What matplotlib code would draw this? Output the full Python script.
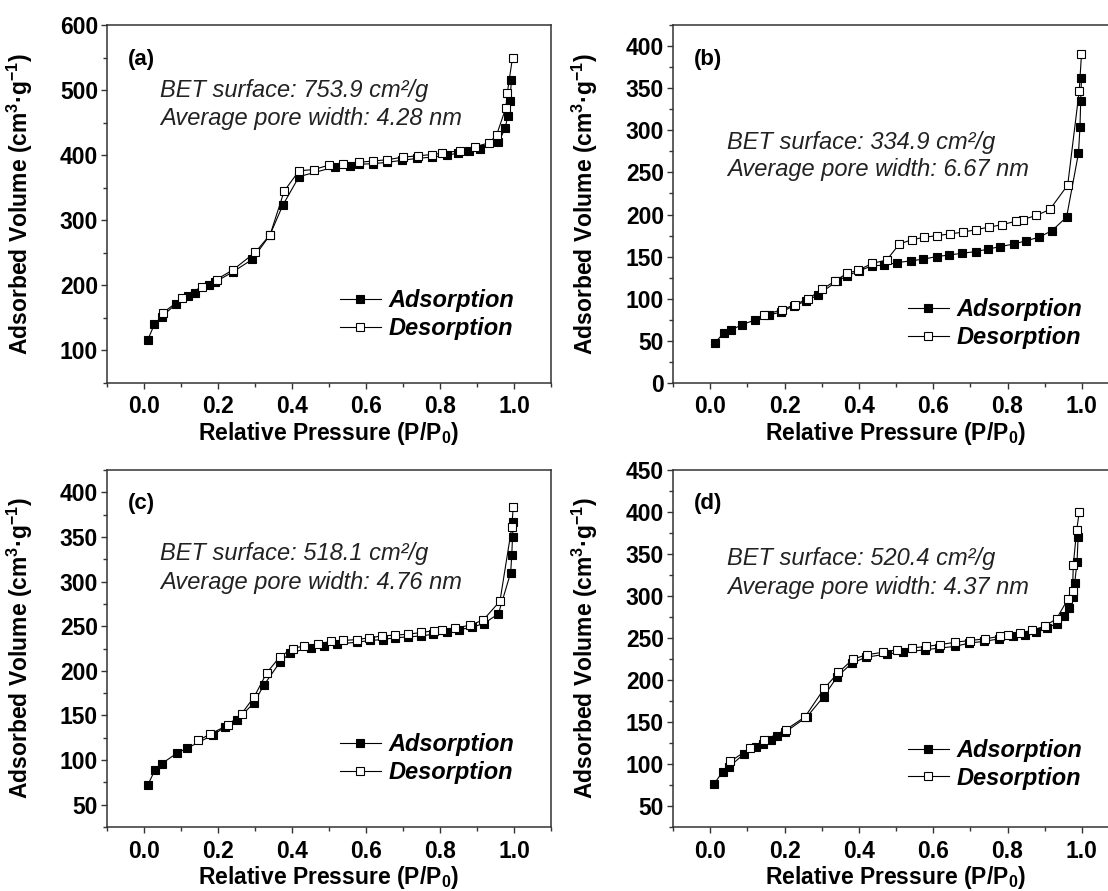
import matplotlib
matplotlib.use("Agg")
import matplotlib.pyplot as plt
from matplotlib.ticker import MultipleLocator

plt.rcParams["font.family"] = ["Liberation Sans", "DejaVu Sans"]
plt.rcParams["mathtext.fontset"] = "custom"
plt.rcParams["mathtext.rm"] = "Liberation Sans:bold"
plt.rcParams["mathtext.it"] = "Liberation Sans:bold"
plt.rcParams["mathtext.bf"] = "Liberation Sans:bold"

# ---- (a) ----
ads_a_p = [0.010, 0.028, 0.048, 0.086, 0.120, 0.138, 0.177, 0.192, 0.241, 0.293,
           0.340, 0.375, 0.419, 0.516, 0.557, 0.580, 0.620, 0.656, 0.696, 0.737,
           0.778, 0.818, 0.848, 0.878, 0.908, 0.958, 0.976, 0.983, 0.989, 0.993]
ads_a_v = [116, 140, 152, 171, 183, 188, 200, 205, 221, 240,
           277, 323, 367, 382, 384, 386, 387, 389, 392, 395,
           397, 400, 403, 406, 410, 420, 441, 460, 483, 515]
des_a_p = [0.996, 0.982, 0.978, 0.953, 0.933, 0.895, 0.854, 0.805, 0.778, 0.740,
           0.699, 0.658, 0.618, 0.580, 0.539, 0.501, 0.460, 0.419, 0.379, 0.341,
           0.301, 0.241, 0.196, 0.156, 0.102, 0.052]
des_a_v = [550, 496, 473, 431, 419, 413, 407, 403, 401, 399,
           397, 393, 391, 389, 387, 385, 378, 376, 345, 278,
           251, 224, 209, 198, 180, 158]

# ---- (b) ----
ads_b_p = [0.013, 0.036, 0.056, 0.085, 0.121, 0.157, 0.191, 0.226, 0.258, 0.291,
           0.342, 0.367, 0.400, 0.435, 0.469, 0.504, 0.540, 0.573, 0.609, 0.643,
           0.678, 0.714, 0.748, 0.781, 0.817, 0.851, 0.885, 0.920, 0.959, 0.991,
           0.995, 0.997, 0.999]
ads_b_v = [48, 59, 63, 69, 75, 81, 84, 92, 97, 105,
           121, 127, 133, 139, 140, 143, 145, 147, 150, 152,
           154, 156, 159, 162, 165, 169, 173, 181, 197, 273,
           304, 335, 362]
des_b_p = [0.999, 0.993, 0.962, 0.914, 0.878, 0.841, 0.822, 0.786, 0.750, 0.715,
           0.679, 0.645, 0.611, 0.576, 0.542, 0.509, 0.475, 0.436, 0.399, 0.367,
           0.336, 0.300, 0.264, 0.227, 0.194, 0.146]
des_b_v = [390, 347, 235, 206, 199, 194, 192, 188, 185, 182,
           179, 177, 175, 173, 170, 165, 146, 142, 134, 130,
           121, 111, 100, 93, 87, 81]

# ---- (c) ----
ads_c_p = [0.010, 0.030, 0.048, 0.090, 0.115, 0.186, 0.219, 0.252, 0.297, 0.324,
           0.368, 0.395, 0.450, 0.486, 0.522, 0.575, 0.611, 0.645, 0.678, 0.714,
           0.748, 0.782, 0.818, 0.852, 0.887, 0.919, 0.958, 0.991, 0.994, 0.996,
           0.998]
ads_c_v = [72, 89, 96, 108, 113, 128, 137, 145, 164, 184,
           210, 220, 226, 228, 230, 232, 234, 235, 237, 238,
           239, 241, 243, 246, 249, 253, 264, 310, 330, 350,
           367]
des_c_p = [0.998, 0.994, 0.962, 0.917, 0.881, 0.841, 0.805, 0.784, 0.750, 0.714,
           0.678, 0.642, 0.609, 0.575, 0.539, 0.505, 0.471, 0.433, 0.402, 0.368,
           0.332, 0.298, 0.264, 0.226, 0.178, 0.147]
des_c_v = [384, 361, 278, 257, 251, 248, 246, 245, 243, 241,
           240, 239, 237, 235, 234, 233, 230, 228, 225, 216,
           198, 171, 152, 139, 129, 122]

# ---- (d) ----
ads_d_p = [0.010, 0.034, 0.052, 0.091, 0.124, 0.142, 0.163, 0.179, 0.202, 0.260,
           0.305, 0.342, 0.381, 0.419, 0.475, 0.518, 0.578, 0.617, 0.659, 0.697,
           0.737, 0.778, 0.815, 0.847, 0.876, 0.905, 0.932, 0.952, 0.966, 0.977,
           0.981, 0.987, 0.990]
ads_d_v = [76, 91, 97, 112, 120, 124, 128, 133, 138, 156,
           180, 204, 220, 227, 231, 233, 236, 238, 240, 244,
           246, 249, 252, 254, 257, 262, 267, 276, 286, 299,
           316, 340, 370]
des_d_p = [0.993, 0.986, 0.977, 0.975, 0.962, 0.932, 0.900, 0.865, 0.833, 0.802,
           0.780, 0.739, 0.699, 0.659, 0.618, 0.581, 0.542, 0.502, 0.464, 0.421,
           0.385, 0.345, 0.307, 0.255, 0.204, 0.145, 0.108, 0.054]
des_d_v = [400, 378, 337, 306, 296, 273, 264, 259, 256, 253,
           252, 249, 247, 245, 242, 240, 238, 236, 233, 230,
           225, 209, 190, 156, 141, 128, 119, 103]

panel_tags = ["(a)", "(b)", "(c)", "(d)"]
bet_lines = [
    ("BET surface: 753.9 cm\u00b2/g", "Average pore width: 4.28 nm"),
    ("BET surface: 334.9 cm\u00b2/g", "Average pore width: 6.67 nm"),
    ("BET surface: 518.1 cm\u00b2/g", "Average pore width: 4.76 nm"),
    ("BET surface: 520.4 cm\u00b2/g", "Average pore width: 4.37 nm"),
]
series = [
    (ads_a_p, ads_a_v, des_a_p, des_a_v),
    (ads_b_p, ads_b_v, des_b_p, des_b_v),
    (ads_c_p, ads_c_v, des_c_p, des_c_v),
    (ads_d_p, ads_d_v, des_d_p, des_d_v),
]
y_limits = [(50, 600), (0, 425), (25, 425), (25, 450)]
y_major = [100, 50, 50, 50]
y_first = [100, 0, 50, 50]

W, H = 1108, 891
fig = plt.figure(figsize=(W / 100, H / 100), dpi=100)

# axes boxes in pixels: left, top, right, bottom
boxes = [(107, 25, 551, 383), (673, 25, 1119, 383),
         (107, 470, 551, 827), (673, 470, 1119, 827)]
text_pos = [(0.12, 0.818, 0.74), (0.121, 0.673, 0.595),
            (0.12, 0.767, 0.686), (0.121, 0.753, 0.672)]
legend_y = [0.12, 0.095, 0.12, 0.105]

TICK_FS = 16.5
for i, ax_box in enumerate(boxes):
    l, t, r, b = ax_box
    ax = fig.add_axes([l / W, 1 - b / H, (r - l) / W, (b - t) / H])
    ap, av, dp, dv = series[i]
    ax.plot(ap, av, color="black", lw=0.8, marker="s", ms=5.4, mfc="black",
            mec="black", mew=0.8, label="Adsorption", zorder=3)
    ax.plot(dp, dv, color="black", lw=0.8, marker="s", ms=5.4, mfc="white",
            mec="black", mew=0.8, label="Desorption", zorder=4)

    ax.set_xlim(-0.1, 1.1)
    ax.set_ylim(*y_limits[i])
    ax.set_xticks([0.0, 0.2, 0.4, 0.6, 0.8, 1.0])
    ax.set_xticklabels(["0.0", "0.2", "0.4", "0.6", "0.8", "1.0"])
    ax.xaxis.set_minor_locator(MultipleLocator(0.1))
    lo, hi = y_limits[i]
    yt = list(range(y_first[i], hi + 1, y_major[i]))
    ax.set_yticks(yt)
    ax.set_yticklabels([str(v) for v in yt])
    ax.yaxis.set_minor_locator(MultipleLocator(y_major[i] / 2))

    ax.tick_params(which="both", direction="out", top=False, right=False,
                   color="#333333", width=1.0)
    ax.tick_params(which="major", length=4, labelsize=TICK_FS)
    ax.tick_params(which="minor", length=3)
    ax.tick_params(axis="x", which="major", pad=5)
    ax.tick_params(axis="y", which="major", pad=2.5)
    for lab in ax.get_xticklabels() + ax.get_yticklabels():
        lab.set_fontweight("bold")
    for s in ax.spines.values():
        s.set_color("#333333")
        s.set_linewidth(1.1)

    ax.set_xlabel("Relative Pressure (P/P$_{0}$)", fontsize=16.5, fontweight="bold")
    ax.set_ylabel("Adsorbed Volume (cm$^{3}$\u00b7g$^{-1}$)", fontsize=16.5,
                  fontweight="bold")
    ax.xaxis.set_label_coords(0.5, -0.104)
    ax.yaxis.set_label_coords(-0.163, 0.5)

    ax.text(0.047, 0.905, panel_tags[i], transform=ax.transAxes, fontsize=16,
            fontweight="bold", va="center", ha="left")
    tx, ty1, ty2 = text_pos[i]
    ax.text(tx, ty1, bet_lines[i][0], transform=ax.transAxes, fontsize=17,
            style="italic", va="center", ha="left", color="#222222")
    ax.text(tx, ty2, bet_lines[i][1], transform=ax.transAxes, fontsize=17,
            style="italic", va="center", ha="left", color="#222222")

    ax.legend(loc="lower right", bbox_to_anchor=(0.918, legend_y[i]),
              frameon=False, handlelength=1.74, handletextpad=0.34,
              labelspacing=0.2, borderpad=0, borderaxespad=0,
              prop={"size": 17, "weight": "bold", "style": "italic"})

fig.savefig("out.png", dpi=100)
